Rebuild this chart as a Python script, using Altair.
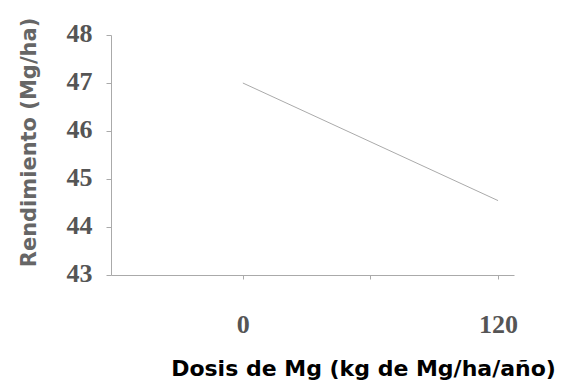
import altair as alt
import pandas as pd

dosis = [0, 120]
rendimiento = [47.0, 44.55]
x_ticks = [0, 60, 120]
y_ticks = [43, 44, 45, 46, 47, 48]

df = pd.DataFrame({"dosis": dosis, "rend": rendimiento})

serif = "Liberation Serif, Times New Roman, serif"

chart = alt.Chart(df).mark_line(color="#aaaaaa", strokeWidth=1).encode(
    x=alt.X("dosis:Q",
            scale=alt.Scale(domain=[-62, 127.5], nice=False, zero=False),
            axis=alt.Axis(values=x_ticks,
                          labelExpr="datum.value == 0 || datum.value == 120 ? datum.label : ''",
                          title="Dosis de Mg (kg de Mg/ha/año)",
                          titleFont="DejaVu Sans", titleFontWeight="bold", titleFontSize=22,
                          titleColor="#000000", titleX=252, titleY=100,
                          titleBaseline="alphabetic", titleAlign="center",
                          labelFont=serif, labelFontWeight="bold", labelFontSize=26,
                          labelColor="#555555", labelBaseline="alphabetic",
                          tickSize=4, labelPadding=53, tickColor="#aaaaaa",
                          domainColor="#aaaaaa", domainWidth=1, grid=False)),
    y=alt.Y("rend:Q",
            scale=alt.Scale(domain=[43, 48], nice=False, zero=False),
            axis=alt.Axis(values=y_ticks, format="d",
                          title="Rendimiento (Mg/ha)",
                          titleFont="DejaVu Sans", titleFontWeight="bold", titleFontSize=21,
                          titleColor="#666666", titleX=-76, titleY=107,
                          titleBaseline="alphabetic", titleAlign="center", titleAngle=-90,
                          labelFont=serif, labelFontWeight="bold", labelFontSize=26,
                          labelColor="#555555", labelBaseline="middle", labelOffset=-2,
                          tickSize=5, labelPadding=14, tickColor="#aaaaaa",
                          domainColor="#aaaaaa", domainWidth=1, grid=False)),
).properties(
    width=403, height=240,
    background="white",
    autosize=alt.AutoSizeParams(type="none"),
    padding={"left": 103, "top": 27, "right": 42, "bottom": 105},
).configure_view(stroke=None)

chart.save("out.html", embed_options={"renderer": "svg", "actions": False})
